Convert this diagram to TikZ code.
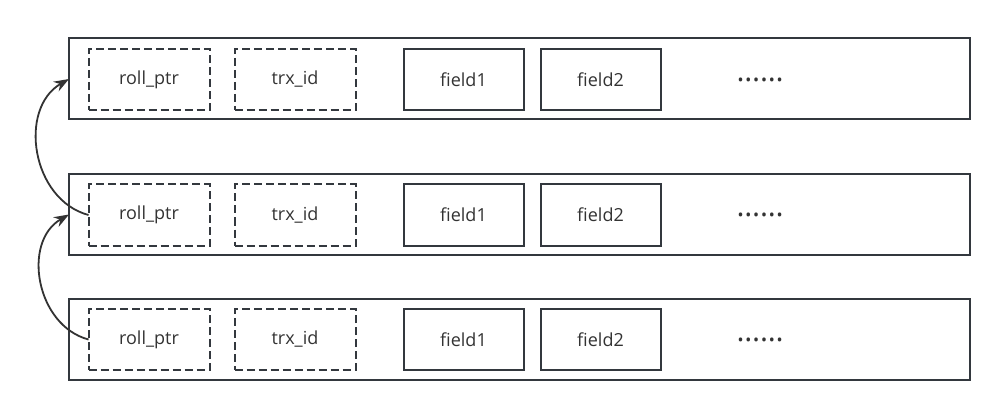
\documentclass[tikz,border=0pt]{standalone}
\usepackage{fontspec}
\setmainfont{Open Sans}
\usetikzlibrary{positioning, arrows.meta}

\definecolor{linegray}{RGB}{51,56,62}
\definecolor{arrowgray}{RGB}{51,51,51}

\begin{document}
\begin{tikzpicture}[x=1pt, y=-1pt, every node/.style={inner sep=0pt, outer sep=0pt, text=arrowgray, font=\fontsize{18}{21}\selectfont},
                    rowbox/.style={draw=linegray, line width=2pt, minimum width=901pt, minimum height=81pt},
                    hdrbox/.style={draw=linegray, line width=2pt, dash pattern=on 8pt off 4pt, minimum width=121pt, minimum height=61pt},
                    fldbox/.style={draw=linegray, line width=2pt, minimum width=120pt, minimum height=61pt},
                    link/.style={draw=arrowgray, line width=1.8pt, -{Stealth[length=15pt, width=11pt]}}]
                    \useasboundingbox (0,0) rectangle (1007,417);

                    % first row
                    \node[rowbox](row1) at (519.5,79) {};
                    \node[hdrbox](rp1) at (149,79.5) {roll\_ptr};
                    \node[hdrbox, right=25pt of rp1](tx1) {trx\_id};
                    \node[fldbox, right=48pt of tx1](fa1) {field1};
                    \node[fldbox, right=17pt of fa1](fb1) {field2};
                    \node[right=76pt of fb1](dt1) {{\fontsize{30}{30}\selectfont ……}};

                    % second row
                    \node[rowbox](row2) at (519.5,214.5) {};
                    \node[hdrbox](rp2) at (149,215) {roll\_ptr};
                    \node[hdrbox, right=25pt of rp2](tx2) {trx\_id};
                    \node[fldbox, right=48pt of tx2](fa2) {field1};
                    \node[fldbox, right=17pt of fa2](fb2) {field2};
                    \node[right=76pt of fb2](dt2) {{\fontsize{30}{30}\selectfont ……}};

                    % third row
                    \node[rowbox](row3) at (519.5,339) {};
                    \node[hdrbox](rp3) at (149,339.5) {roll\_ptr};
                    \node[hdrbox, right=25pt of rp3](tx3) {trx\_id};
                    \node[fldbox, right=48pt of tx3](fa3) {field1};
                    \node[fldbox, right=17pt of fa3](fb3) {field2};
                    \node[right=76pt of fb3](dt3) {{\fontsize{30}{30}\selectfont ……}};

                    \draw[link] (rp2.west) to[out=165, in=210, looseness=1.1] (row1.west);
                    \draw[link] (rp3.west) to[out=165, in=210, looseness=1.1] (row2.west);
                \end{tikzpicture}
\end{document}
